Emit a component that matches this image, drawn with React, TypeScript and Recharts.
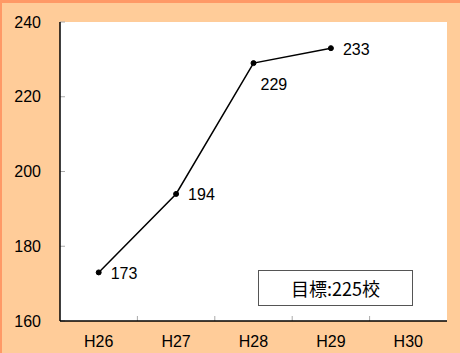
import React from "react";
import {
  LineChart,
  Line,
  XAxis,
  YAxis,
  CartesianGrid,
} from "recharts";

const categories = ["H26", "H27", "H28", "H29", "H30"];
const values: (number | null)[] = [173, 194, 229, 233, null];
const yTicks = [160, 180, 200, 220, 240];
const bandEdges = [1, 2, 3, 4];
const targetLabel = "目標:225校";

const data = categories.map((c, i) => ({ name: c, value: values[i] }));

const FONT = "'Liberation Sans', Arial, sans-serif";
const TICK_COLOR = "#aaa";
const TICK_LEN = 5;

const renderLabel = (props: any) => {
  const { x, y, value, index } = props;
  if (value == null) return null;
  const below = index === 2;
  return (
    <text
      x={x + (below ? 7 : 12)}
      y={y + (below ? 21 : 1)}
      dominantBaseline="central"
      textAnchor="start"
      fontSize={16}
      fontFamily={FONT}
      fill="#000"
    >
      {value}
    </text>
  );
};

const hTick = (p: any) => (
  <line
    key={p.key}
    x1={p.x1}
    x2={p.x1 + TICK_LEN}
    y1={p.y1}
    y2={p.y2}
    stroke={TICK_COLOR}
    strokeWidth={1}
  />
);

const vTick = (p: any) => (
  <line
    key={p.key}
    x1={p.x1}
    x2={p.x2}
    y1={p.y2}
    y2={p.y2 - TICK_LEN}
    stroke={TICK_COLOR}
    strokeWidth={1}
  />
);

export default function App() {
  return (
    <div
      style={{
        position: "absolute",
        left: 0,
        top: 0,
        width: 460,
        height: 353,
        background: "#FFCC99",
        boxSizing: "border-box",
        borderTop: "3px solid #FF9966",
        borderLeft: "2px solid #FF9966",
        overflow: "hidden",
      }}
    >
      <div style={{ position: "absolute", left: -2, top: -3 }}>
        <LineChart
          width={460}
          height={353}
          data={data}
          margin={{ top: 22, right: 13, bottom: 0, left: 0 }}
        >
          <CartesianGrid
            fill="#fff"
            horizontal={hTick}
            vertical={vTick}
            verticalCoordinatesGenerator={({ offset }: any) =>
              bandEdges.map(
                (k) => offset.left + (offset.width * k) / categories.length
              )
            }
          />
          <XAxis
            dataKey="name"
            scale="band"
            axisLine={{ stroke: "#000", strokeWidth: 1.5 }}
            tickLine={false}
            tick={{ fontSize: 16, fill: "#000", fontFamily: FONT }}
            tickMargin={9}
            height={32}
            interval={0}
          />
          <XAxis
            xAxisId="top"
            orientation="top"
            dataKey="name"
            axisLine={{ stroke: "#000", strokeWidth: 1.5 }}
            tick={false}
            tickLine={false}
            height={0}
          />
          <YAxis
            domain={[160, 240]}
            ticks={yTicks}
            interval={0}
            width={60}
            axisLine={{ stroke: "#000", strokeWidth: 1.5 }}
            tickLine={false}
            tickSize={0}
            tickMargin={19}
            tick={{ fontSize: 16, fill: "#000", fontFamily: FONT }}
          />
          <YAxis
            yAxisId="right"
            orientation="right"
            domain={[160, 240]}
            axisLine={{ stroke: "#000", strokeWidth: 1.5 }}
            tick={false}
            tickLine={false}
            width={0}
          />
          <Line
            dataKey="value"
            stroke="#000"
            strokeWidth={1.5}
            dot={{ r: 2.5, fill: "#000", stroke: "#000", strokeWidth: 1 }}
            label={renderLabel}
            isAnimationActive={false}
          />
        </LineChart>
      </div>
      <div
        style={{
          position: "absolute",
          left: 256,
          top: 267,
          width: 155,
          height: 36,
          boxSizing: "border-box",
          border: "1px solid #555",
          background: "#fff",
          display: "flex",
          alignItems: "center",
          justifyContent: "center",
          fontSize: 18,
          fontFamily: "'Noto Sans CJK JP', sans-serif",
          color: "#000",
        }}
      >
        {targetLabel}
      </div>
    </div>
  );
}
